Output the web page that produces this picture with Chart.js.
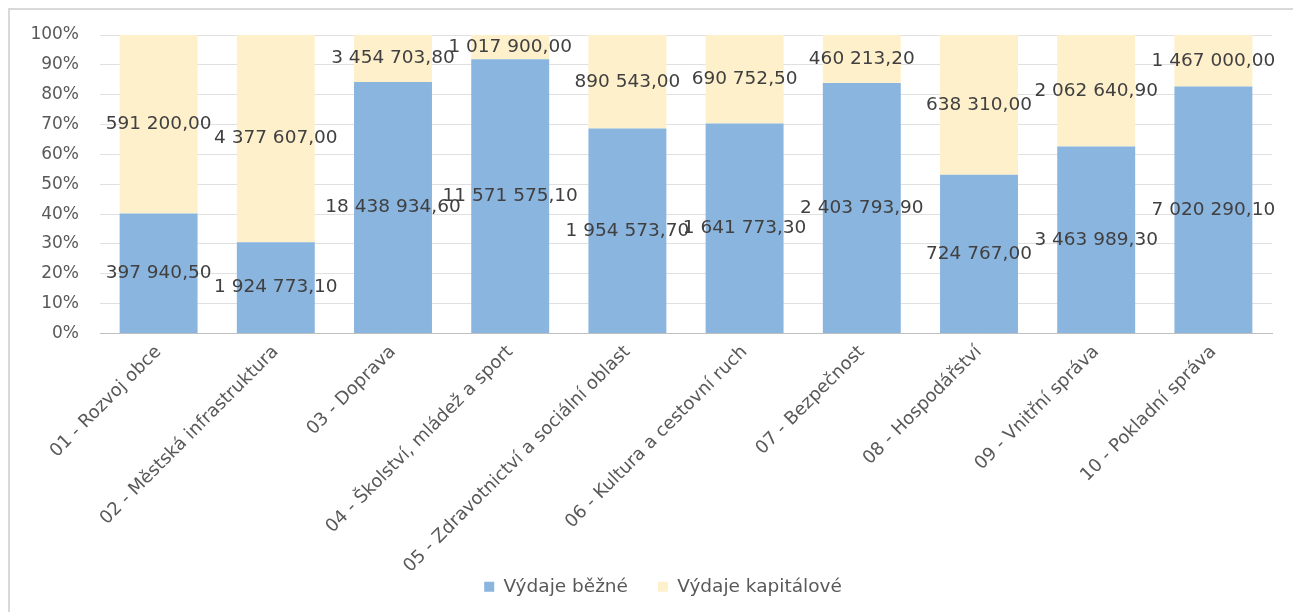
<!DOCTYPE html>
<html>
<head>
<meta charset="utf-8">
<script src="https://cdn.jsdelivr.net/npm/chart.js@4.4.1/dist/chart.umd.min.js"></script>
<style>
  html, body { margin: 0; padding: 0; background: #fff; overflow: hidden; }
  #frame { position: absolute; left: 8px; top: 8px; width: 1300px; height: 620px; border: 2px solid #d9d9d9; }
  #wrap { position: absolute; left: 0; top: 0; width: 1293px; height: 612px; }
</style>
</head>
<body>
<div id="frame"></div>
<div id="wrap"><canvas id="budgetChart"></canvas></div>
<script>
var categories = [
  "01 - Rozvoj obce",
  "02 - Městská infrastruktura",
  "03 - Doprava",
  "04 - Školství, mládež a sport",
  "05 - Zdravotnictví a sociální oblast",
  "06 - Kultura a cestovní ruch",
  "07 - Bezpečnost",
  "08 - Hospodářství",
  "09 - Vnitřní správa",
  "10 - Pokladní správa"
];
var bezne = [397940.50, 1924773.10, 18438934.60, 11571575.10, 1954573.70,
             1641773.30, 2403793.90, 724767.00, 3463989.30, 7020290.10];
var kapitalove = [591200.00, 4377607.00, 3454703.80, 1017900.00, 890543.00,
                  690752.50, 460213.20, 638310.00, 2062640.90, 1467000.00];

var FONT = "'DejaVu Sans', sans-serif";

// 100 % stacked: share of each series in its category
function share(arr) {
  return arr.map(function(v, i) {
    return v / (bezne[i] + kapitalove[i]) * 100;
  });
}

function czNumber(v) {
  var parts = v.toFixed(2).split(".");
  return parts[0].replace(/\B(?=(\d{3})+(?!\d))/g, " ") + "," + parts[1];
}

var raw = [bezne, kapitalove];

var valueLabels = {
  id: "valueLabels",
  afterDatasetsDraw: function(chart) {
    var ctx = chart.ctx;
    ctx.save();
    ctx.font = "18.5px " + FONT;
    ctx.fillStyle = "#404040";
    ctx.textAlign = "center";
    ctx.textBaseline = "middle";
    chart.data.datasets.forEach(function(ds, di) {
      chart.getDatasetMeta(di).data.forEach(function(bar, i) {
        var y = (bar.y + bar.base) / 2;
        ctx.fillText(czNumber(raw[di][i]), bar.x, y);
      });
    });
    ctx.restore();
  }
};

var ctx = document.getElementById("budgetChart").getContext("2d");
new Chart(ctx, {
  type: "bar",
  data: {
    labels: categories,
    datasets: [{
      label: "Výdaje běžné",
      data: share(bezne),
      backgroundColor: "#8ab5df",
      barPercentage: 0.665,
      categoryPercentage: 1
    }, {
      label: "Výdaje kapitálové",
      data: share(kapitalove),
      backgroundColor: "#fff0cc",
      barPercentage: 0.665,
      categoryPercentage: 1
    }]
  },
  options: {
    responsive: true,
    maintainAspectRatio: false,
    animation: false,
    layout: { padding: { left: 54, right: 21, top: 35, bottom: 6 } },
    plugins: {
      legend: {
        position: "bottom",
        labels: {
          boxWidth: 10,
          boxHeight: 10,
          padding: 30,
          color: "#595959",
          font: { family: FONT, size: 18.5 }
        }
      },
      tooltip: { enabled: false }
    },
    scales: {
      x: {
        stacked: true,
        grid: { display: false, drawTicks: false },
        border: { color: "#bfbfbf" },
        ticks: {
          minRotation: 45,
          maxRotation: 45,
          padding: 8,
          color: "#595959",
          font: { family: FONT, size: 18 }
        },
        afterFit: function(axis) {
          axis.height = 214;
          // long rotated labels run under the legend, don't clip them
          axis._computeLabelArea = function() {};
        }
      },
      y: {
        stacked: true,
        min: 0,
        max: 100,
        grid: { color: "#e0e0e0", drawTicks: false },
        border: { display: false },
        ticks: {
          stepSize: 10,
          padding: 21,
          color: "#595959",
          font: { family: FONT, size: 17 },
          callback: function(v) { return v + "%"; }
        },
        afterFit: function(axis) {
          axis.width = 46;
          axis._computeLabelArea = function() {};
        }
      }
    }
  },
  plugins: [valueLabels]
});
</script>
</body>
</html>
